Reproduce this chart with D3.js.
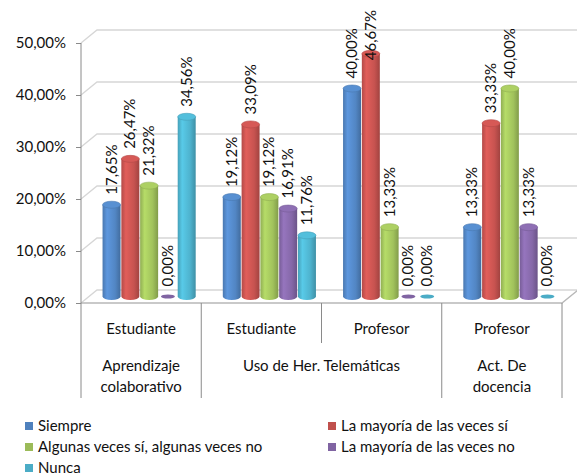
<!DOCTYPE html>
<html>
<head>
<meta charset="utf-8">
<script src="https://cdn.jsdelivr.net/npm/d3@7"></script>
<style>
  body { margin: 0; background: #fff; }
  text { font-family: Lato, "Open Sans", sans-serif; fill: #111; }
</style>
</head>
<body>
<svg width="577" height="475"></svg>
<script>
// data
var categories = ["Estudiante", "Estudiante", "Profesor", "Profesor"];
var groupLabels = [["Aprendizaje", "colaborativo"], ["Uso de Her. Telemáticas"], ["Act. De", "docencia"]];
var groupSpans = [1, 2, 1];
var seriesNames = ["Siempre", "La mayoría de las veces sí", "Algunas veces sí, algunas veces no", "La mayoría de las veces no", "Nunca"];
var siempre = [17.65, 19.12, 40.00, 13.33];
var mayoriaSi = [26.47, 33.09, 46.67, 33.33];
var algunas = [21.32, 19.12, 13.33, 40.00];
var mayoriaNo = [0.00, 16.91, 0.00, 13.33];
var nunca = [34.56, 11.76, 0.00, 0.00];
var yTicks = [0, 10, 20, 30, 40, 50];

var seriesValues = [siempre, mayoriaSi, algunas, mayoriaNo, nunca];
var colors = ["#4f81bd", "#c0504d", "#9bbb59", "#8064a2", "#4bacc6"];

var svg = d3.select("svg");
var left = 81, right = 562;
var depthX = 16, depthY = -13;   // 3d offset of the back wall
var midX = depthX / 2, midY = depthY / 2;

var locale = d3.formatLocale({ decimal: ",", thousands: ".", grouping: [3], currency: ["", "%"] });
var fmt = function (v) { return locale.format(".2f")(v) + "%"; };

var x0 = d3.scaleBand().domain(d3.range(categories.length)).range([left, right]);
var x1 = d3.scaleBand().domain(d3.range(seriesNames.length)).range([0, x0.bandwidth()]).paddingOuter(0.7);
var y = d3.scaleLinear().domain([0, 50]).range([303, 43]);

// gradients for the cylinders
var defs = svg.append("defs");
colors.forEach(function (c, i) {
    var base = d3.color(c);
    var g = defs.append("linearGradient").attr("id", "grad" + i).attr("x1", 0).attr("x2", 1).attr("y1", 0).attr("y2", 0);
    g.append("stop").attr("offset", "0%").attr("stop-color", base.darker(0.2));
    g.append("stop").attr("offset", "25%").attr("stop-color", base.brighter(0.45));
    g.append("stop").attr("offset", "70%").attr("stop-color", base.brighter(0.1));
    g.append("stop").attr("offset", "100%").attr("stop-color", base.darker(0.5));
});

// back wall gridlines + floor
var grid = svg.append("g").attr("stroke", "#d6d6d6").attr("stroke-width", 1.3).attr("fill", "none");
yTicks.forEach(function (t) {
    grid.append("path")
        .attr("d", "M" + left + "," + y(t) + "L" + (left + depthX) + "," + (y(t) + depthY) + "H" + (right + depthX));
});
grid.append("path")
    .attr("d", "M" + left + "," + y(0) + "H" + right + "L" + (right + depthX) + "," + (y(0) + depthY))
    .attr("stroke", "#b8b8b8");

// bars (cylinders)
var ry = 3.5;
var bw = x1.bandwidth();
var bars = svg.append("g");
var labels = svg.append("g");
seriesValues.forEach(function (vals, s) {
    vals.forEach(function (v, i) {
        var cx = x0(i) + x1(s) + bw / 2 + midX;
        var rx = bw / 2 - 0.4;
        var yb = y(0) + midY, yt = y(v) + midY;
        if (v > 0) {
            bars.append("path")
                .attr("d", "M" + (cx - rx) + "," + yt + "V" + yb +
                    "A" + rx + "," + ry + " 0 0 0 " + (cx + rx) + "," + yb + "V" + yt + "Z")
                .attr("fill", "url(#grad" + s + ")");
            bars.append("ellipse")
                .attr("cx", cx).attr("cy", yt).attr("rx", rx).attr("ry", ry)
                .attr("fill", d3.color(colors[s]).brighter(0.3))
                .attr("stroke", d3.color(colors[s]).darker(0.2)).attr("stroke-width", 0.6);
        } else {
            bars.append("ellipse")
                .attr("cx", cx).attr("cy", yb).attr("rx", rx - 2).attr("ry", 2)
                .attr("fill", colors[s]);
        }
        var lbl = labels.append("text")
            .attr("font-size", 15)
            .text(fmt(v));
        var len = lbl.node().getComputedTextLength();
        var ly = Math.max(yt - 10, 10 + len);   // keep inside the chart, like excel does
        lbl.attr("transform", "translate(" + (cx + 5) + "," + ly + ") rotate(-90)");
    });
});

// y axis
var yAxis = d3.axisLeft(y).tickValues(yTicks).tickSize(5).tickPadding(10).tickFormat(fmt);
var ax = svg.append("g").attr("transform", "translate(" + left + ",0)").call(yAxis);
ax.select(".domain").remove();
ax.selectAll("line").attr("stroke", "#8a8a8a");
ax.selectAll("text").attr("font-size", 15).attr("font-family", "Lato, sans-serif").attr("fill", "#111");
svg.append("line").attr("x1", left).attr("x2", left).attr("y1", 43).attr("y2", 398)
    .attr("stroke", "#8a8a8a");

// category table
var cat = svg.append("g");
[1, 2, 3, 4].forEach(function (e) {
    var xe = e < 4 ? x0(e) : right;
    cat.append("line").attr("x1", xe).attr("x2", xe).attr("y1", y(0))
        .attr("y2", e === 2 ? 343 : 398).attr("stroke", "#8a8a8a");
});
categories.forEach(function (c, i) {
    cat.append("text").attr("x", x0(i) + x0.bandwidth() / 2).attr("y", 334)
        .attr("text-anchor", "middle").attr("font-size", 15).text(c);
});
var start = 0;
groupLabels.forEach(function (lines, g) {
    var xc = x0(start) + x0.bandwidth() * groupSpans[g] / 2;
    lines.forEach(function (l, k) {
        cat.append("text").attr("x", xc).attr("y", 371 + k * 21)
            .attr("text-anchor", "middle").attr("font-size", 15).text(l);
    });
    start += groupSpans[g];
});

// legend
var legendPos = [[25, 426], [328, 426], [25, 447], [328, 447], [25, 468]];
seriesNames.forEach(function (n, s) {
    var p = legendPos[s];
    svg.append("rect").attr("x", p[0]).attr("y", p[1] - 4).attr("width", 8).attr("height", 8)
        .attr("fill", colors[s]);
    svg.append("text").attr("x", p[0] + 13).attr("y", p[1] + 5).attr("font-size", 15).text(n);
});
</script>
</body>
</html>
